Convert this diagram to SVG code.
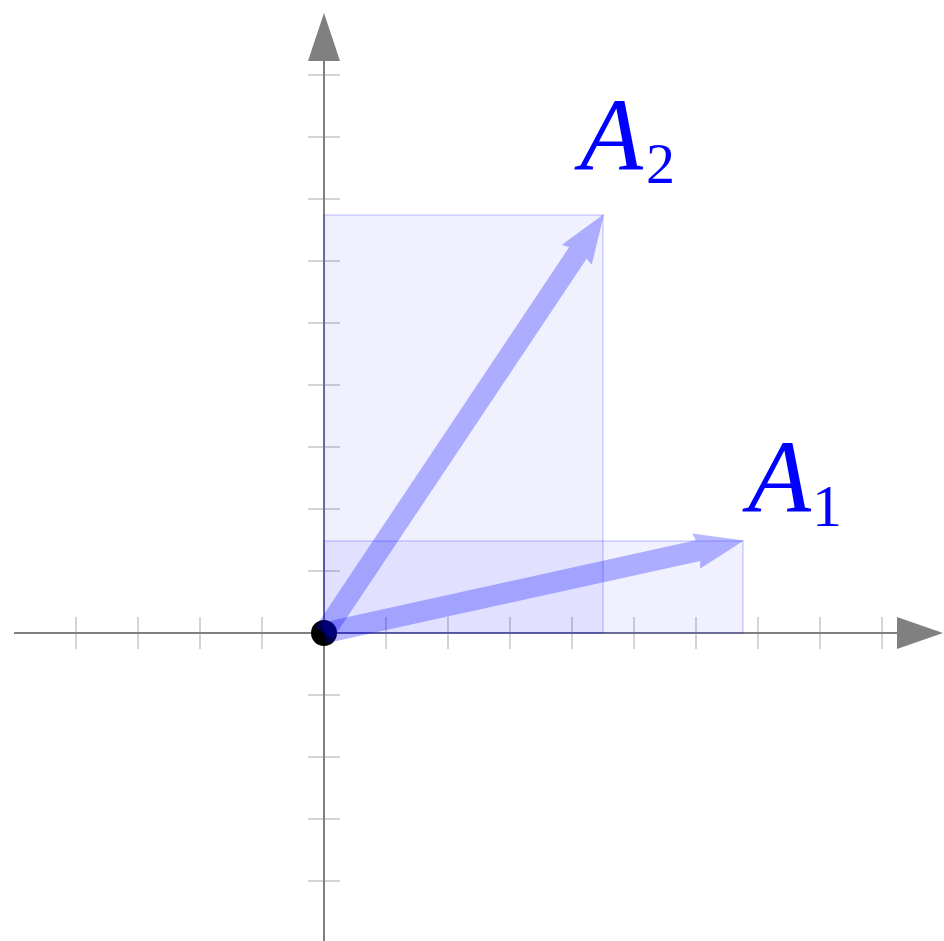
<svg xmlns="http://www.w3.org/2000/svg" width="944" height="941" viewBox="0 0 944 941">
<style>
.tick{stroke:#c6c6c6;stroke-width:1.5;fill:none}
.axis{stroke:#808080;stroke-width:2;fill:none}
.head{fill:#808080;stroke:none}
.box{fill:#0000ff;fill-opacity:0.06;stroke:#0000ff;stroke-opacity:0.22;stroke-width:1.2}
.vec{fill:#0000ff;fill-opacity:0.28;stroke:none}
.lbl{font-family:"Liberation Serif","DejaVu Serif",serif;fill:#0000ff}
</style>
<rect width="944" height="941" fill="#ffffff"/>
<g id="axes">
<g class="tick">
<path d="M76,617V649M138,617V649M200,617V649M262,617V649M386,617V649M448,617V649M510,617V649M572,617V649M634,617V649M696,617V649M758,617V649M820,617V649M882,617V649"/>
<path d="M308,75H340M308,137H340M308,199H340M308,261H340M308,323H340M308,385H340M308,447H340M308,509H340M308,571H340M308,695H340M308,757H340M308,819H340M308,881H340"/>
</g>
<line class="axis" x1="14" y1="633" x2="899" y2="633"/>
<line class="axis" x1="324" y1="941" x2="324" y2="59"/>
<polygon class="head" points="943,633 897,617 897,649"/>
<polygon class="head" points="324,13 308,61 340,61"/>
</g>
<g id="box-A2"><rect class="box" x="324" y="215" width="279" height="418"/></g>
<g id="box-A1"><rect class="box" x="324" y="541" width="419" height="92"/></g>
<g id="origin"><circle cx="324" cy="633" r="13" fill="#000000"/></g>
<g id="connectors">
<path id="vec-A1" class="vec" transform="translate(324,633) rotate(-12.42)" d="M0,-10.5 L383,-10.5 L381,-18 L430,0 L381,18 L383,10.5 L0,10.5 Z"/>
<path id="vec-A2" class="vec" transform="translate(324,633) rotate(-56.25)" d="M0,-10.5 L457,-10.5 L455,-18 L504,0 L455,18 L457,10.5 L0,10.5 Z"/>
</g>
<g id="label-A1">
<text class="lbl" x="748" y="512" font-size="103" font-style="italic">A</text>
<text class="lbl" x="812" y="526" font-size="60">1</text>
</g>
<g id="label-A2">
<text class="lbl" x="580" y="170" font-size="103" font-style="italic">A</text>
<text class="lbl" x="646" y="183" font-size="58">2</text>
</g>
</svg>
